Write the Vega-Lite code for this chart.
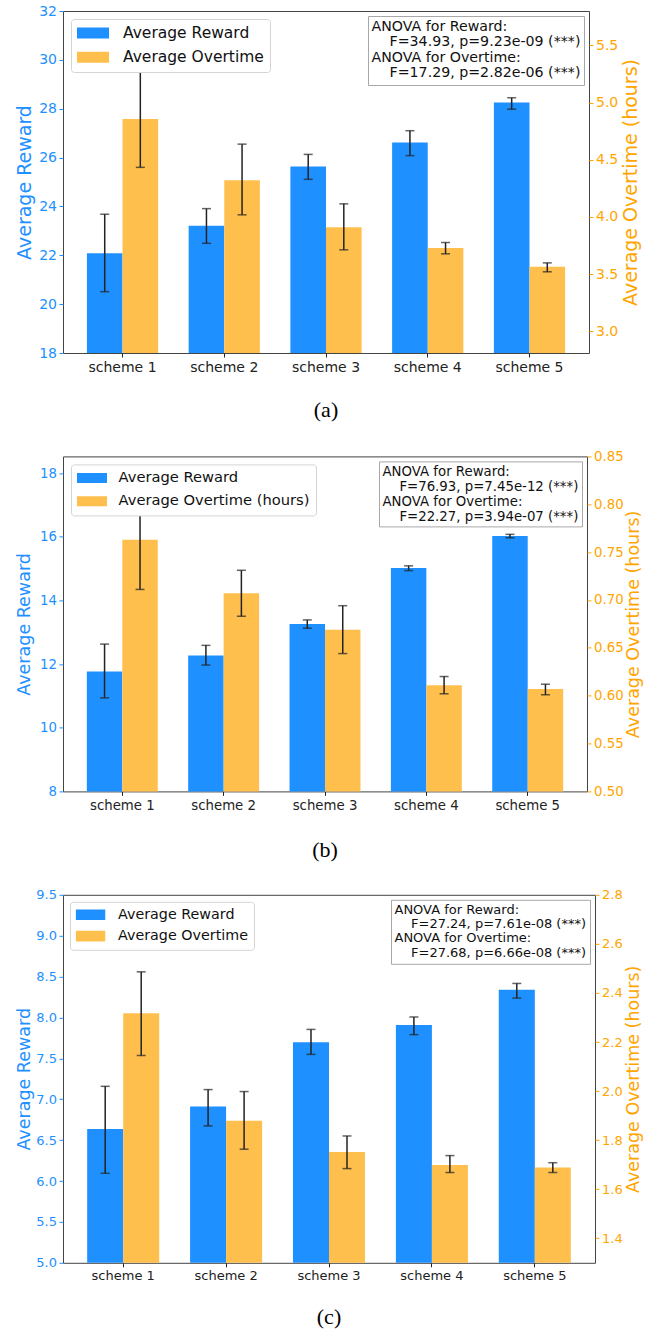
{
  "$schema": "https://vega.github.io/schema/vega-lite/v6.json",
  "padding": {"left": 14, "top": 3, "right": 4, "bottom": 4},
  "background": "white",
  "bounds": "flush",
  "spacing": 103.4,
  "config": {
    "font": "DejaVu Sans",
    "view": {"stroke": "#444444", "strokeWidth": 1},
    "axis": {"grid": false, "domain": false, "tickSize": 4, "tickWidth": 1, "labelPadding": 2.5, "titleFontWeight": "normal", "labelFont": "DejaVu Sans", "titleFont": "DejaVu Sans"},
    "legend": {"labelFont": "DejaVu Sans"},
    "title": {"font": "Liberation Serif", "fontWeight": "normal", "color": "black", "orient": "bottom", "anchor": "middle", "fontSize": 22}
  },
  "resolve": {
    "scale": {"color": "independent", "shape": "independent", "xOffset": "independent"},
    "legend": {"color": "independent", "shape": "independent"}
  },
  "vconcat": [
    {
      "width": 526,
      "height": 342,
      "title": {"text": "(a)", "offset": 26},
      "data": {"values": [
        {"scheme": "scheme 1", "metric": "reward", "series": "Average Reward", "mean": 22.08, "lo": 20.51, "hi": 23.68},
        {"scheme": "scheme 2", "metric": "reward", "series": "Average Reward", "mean": 23.21, "lo": 22.49, "hi": 23.91},
        {"scheme": "scheme 3", "metric": "reward", "series": "Average Reward", "mean": 25.63, "lo": 25.11, "hi": 26.13},
        {"scheme": "scheme 4", "metric": "reward", "series": "Average Reward", "mean": 26.62, "lo": 26.08, "hi": 27.10},
        {"scheme": "scheme 5", "metric": "reward", "series": "Average Reward", "mean": 28.25, "lo": 27.98, "hi": 28.45},
        {"scheme": "scheme 1", "metric": "overtime", "series": "Average Overtime", "mean": 4.855, "lo": 4.433, "hi": 5.269},
        {"scheme": "scheme 2", "metric": "overtime", "series": "Average Overtime", "mean": 4.32, "lo": 4.018, "hi": 4.636},
        {"scheme": "scheme 3", "metric": "overtime", "series": "Average Overtime", "mean": 3.91, "lo": 3.712, "hi": 4.114},
        {"scheme": "scheme 4", "metric": "overtime", "series": "Average Overtime", "mean": 3.729, "lo": 3.677, "hi": 3.776},
        {"scheme": "scheme 5", "metric": "overtime", "series": "Average Overtime", "mean": 3.563, "lo": 3.52, "hi": 3.598}
      ]},
      "layer": [
        {
          "transform": [{"filter": "datum.metric === 'reward'"}],
          "encoding": {
            "x": {"field": "scheme", "type": "nominal", "title": null, "scale": {"paddingInner": 0.3, "paddingOuter": 0.235}, "axis": {"labelAngle": 0, "labelFontSize": 14, "labelColor": "#222222", "tickColor": "#222222", "labelPadding": 3}},
            "xOffset": {"field": "metric", "type": "nominal", "scale": {"domain": ["reward", "overtime"], "paddingInner": 0, "paddingOuter": 0}}
          },
          "layer": [
            {"mark": {"type": "bar", "clip": true},
             "encoding": {
               "y": {"field": "mean", "type": "quantitative", "title": "Average Reward", "scale": {"domain": [18, 32], "nice": false, "zero": false},
                     "axis": {"orient": "left", "values": [18, 20, 22, 24, 26, 28, 30, 32], "format": "d", "labelColor": "#1E90FF", "tickColor": "#1E90FF", "titleColor": "#1E90FF", "labelFontSize": 14, "titleFontSize": 19, "minExtent": 26, "maxExtent": 26, "titlePadding": 3}},
               "color": {"field": "series", "type": "nominal", "scale": {"domain": ["Average Reward", "Average Overtime"], "range": ["#1E90FF", "#FFBF4D"]},
                         "legend": {"title": null, "orient": "top-left", "offset": 8, "padding": 6, "fillColor": "white", "strokeColor": "#d4d4d4", "cornerRadius": 3, "symbolType": "M-1,-0.34H1V0.34H-1Z", "symbolSize": 1024, "symbolStrokeWidth": 0, "labelOffset": 14, "labelFontSize": 15.5, "labelColor": "#111111", "labelLimit": 400, "clipHeight": 16, "rowPadding": 7.3}}
             }},
            {"mark": {"type": "rule", "color": "#222222", "strokeWidth": 1.5},
             "encoding": {"y": {"field": "lo", "type": "quantitative", "title": "Average Reward"}, "y2": {"field": "hi"}}},
            {"mark": {"type": "tick", "color": "#222222", "thickness": 1.5, "size": 9},
             "encoding": {"y": {"field": "lo", "type": "quantitative", "title": "Average Reward"}}},
            {"mark": {"type": "tick", "color": "#222222", "thickness": 1.5, "size": 9},
             "encoding": {"y": {"field": "hi", "type": "quantitative", "title": "Average Reward"}}}
          ]
        },
        {
          "transform": [{"filter": "datum.metric === 'overtime'"}],
          "encoding": {
            "x": {"field": "scheme", "type": "nominal", "title": null, "scale": {"paddingInner": 0.3, "paddingOuter": 0.235}},
            "xOffset": {"field": "metric", "type": "nominal", "scale": {"domain": ["reward", "overtime"], "paddingInner": 0, "paddingOuter": 0}}
          },
          "layer": [
            {"mark": {"type": "bar", "clip": true},
             "encoding": {
               "y": {"field": "mean", "type": "quantitative", "title": "Average Overtime (hours)", "scale": {"domain": [2.81, 5.80], "nice": false, "zero": false},
                     "axis": {"orient": "right", "values": [3.0, 3.5, 4.0, 4.5, 5.0, 5.5], "format": ".1f", "labelColor": "#FFA500", "tickColor": "#FFA500", "titleColor": "#FFA500", "labelFontSize": 14, "titleFontSize": 19, "titleAngle": 270, "titleBaseline": "top", "titlePadding": 4}},
               "color": {"field": "series", "type": "nominal", "scale": {"domain": ["Average Reward", "Average Overtime"], "range": ["#1E90FF", "#FFBF4D"]}}
             }},
            {"mark": {"type": "rule", "color": "#222222", "strokeWidth": 1.5},
             "encoding": {"y": {"field": "lo", "type": "quantitative", "title": "Average Overtime (hours)"}, "y2": {"field": "hi"}}},
            {"mark": {"type": "tick", "color": "#222222", "thickness": 1.5, "size": 9},
             "encoding": {"y": {"field": "lo", "type": "quantitative", "title": "Average Overtime (hours)"}}},
            {"mark": {"type": "tick", "color": "#222222", "thickness": 1.5, "size": 9},
             "encoding": {"y": {"field": "hi", "type": "quantitative", "title": "Average Overtime (hours)"}}}
          ]
        },
        {
          "data": {"values": [
            {"line": 1, "text": "ANOVA for Reward:"},
            {"line": 2, "text": "\u200b\u00a0\u00a0\u00a0\u00a0F=34.93, p=9.23e-09 (***)"},
            {"line": 3, "text": "ANOVA for Overtime:"},
            {"line": 4, "text": "\u200b\u00a0\u00a0\u00a0\u00a0F=17.29, p=2.82e-06 (***)"}
          ]},
          "mark": {"type": "point", "opacity": 0},
          "encoding": {
            "shape": {"field": "text", "type": "nominal", "sort": {"field": "line", "op": "min"},
                      "legend": {"title": null, "orient": "top-right", "offset": 5, "padding": 3.5, "fillColor": "white", "strokeColor": "#a8a8a8", "cornerRadius": 0, "symbolOpacity": 0, "symbolSize": 1, "symbolStrokeWidth": 0, "labelOffset": -14.2, "labelFontSize": 14.2, "labelColor": "#111111", "labelLimit": 400, "rowPadding": 0.6}}
          }
        }
      ],
      "resolve": {"scale": {"y": "independent"}}
    },
    {
      "width": 524,
      "height": 335,
      "title": {"text": "(b)", "offset": 28},
      "data": {"values": [
        {"scheme": "scheme 1", "metric": "reward", "series": "Average Reward", "mean": 11.77, "lo": 10.94, "hi": 12.63},
        {"scheme": "scheme 2", "metric": "reward", "series": "Average Reward", "mean": 12.27, "lo": 11.97, "hi": 12.59},
        {"scheme": "scheme 3", "metric": "reward", "series": "Average Reward", "mean": 13.26, "lo": 13.13, "hi": 13.39},
        {"scheme": "scheme 4", "metric": "reward", "series": "Average Reward", "mean": 15.02, "lo": 14.94, "hi": 15.09},
        {"scheme": "scheme 5", "metric": "reward", "series": "Average Reward", "mean": 16.03, "lo": 15.97, "hi": 16.08},
        {"scheme": "scheme 1", "metric": "overtime", "series": "Average Overtime (hours)", "mean": 0.763, "lo": 0.711, "hi": 0.813},
        {"scheme": "scheme 2", "metric": "overtime", "series": "Average Overtime (hours)", "mean": 0.707, "lo": 0.683, "hi": 0.731},
        {"scheme": "scheme 3", "metric": "overtime", "series": "Average Overtime (hours)", "mean": 0.669, "lo": 0.644, "hi": 0.694},
        {"scheme": "scheme 4", "metric": "overtime", "series": "Average Overtime (hours)", "mean": 0.611, "lo": 0.602, "hi": 0.620},
        {"scheme": "scheme 5", "metric": "overtime", "series": "Average Overtime (hours)", "mean": 0.607, "lo": 0.601, "hi": 0.612}
      ]},
      "layer": [
        {
          "transform": [{"filter": "datum.metric === 'reward'"}],
          "encoding": {
            "x": {"field": "scheme", "type": "nominal", "title": null, "scale": {"paddingInner": 0.3, "paddingOuter": 0.235}, "axis": {"labelAngle": 0, "labelFontSize": 13.3, "labelColor": "#222222", "tickColor": "#222222", "labelPadding": 3}},
            "xOffset": {"field": "metric", "type": "nominal", "scale": {"domain": ["reward", "overtime"], "paddingInner": 0, "paddingOuter": 0}}
          },
          "layer": [
            {"mark": {"type": "bar", "clip": true},
             "encoding": {
               "y": {"field": "mean", "type": "quantitative", "title": "Average Reward", "scale": {"domain": [8, 18.53], "nice": false, "zero": false},
                     "axis": {"orient": "left", "values": [8, 10, 12, 14, 16, 18], "format": "d", "labelColor": "#1E90FF", "tickColor": "#1E90FF", "titleColor": "#1E90FF", "labelFontSize": 13.3, "titleFontSize": 17.5, "minExtent": 25, "maxExtent": 25, "titlePadding": 5}},
               "color": {"field": "series", "type": "nominal", "scale": {"domain": ["Average Reward", "Average Overtime (hours)"], "range": ["#1E90FF", "#FFBF4D"]},
                         "legend": {"title": null, "orient": "top-left", "offset": 8, "padding": 6, "fillColor": "white", "strokeColor": "#d4d4d4", "cornerRadius": 3, "symbolType": "M-1,-0.333H1V0.333H-1Z", "symbolSize": 900, "symbolStrokeWidth": 0, "labelOffset": 11.5, "labelFontSize": 14.7, "labelColor": "#111111", "labelLimit": 400, "clipHeight": 15, "rowPadding": 7.3}}
             }},
            {"mark": {"type": "rule", "color": "#222222", "strokeWidth": 1.5},
             "encoding": {"y": {"field": "lo", "type": "quantitative", "title": "Average Reward"}, "y2": {"field": "hi"}}},
            {"mark": {"type": "tick", "color": "#222222", "thickness": 1.5, "size": 9},
             "encoding": {"y": {"field": "lo", "type": "quantitative", "title": "Average Reward"}}},
            {"mark": {"type": "tick", "color": "#222222", "thickness": 1.5, "size": 9},
             "encoding": {"y": {"field": "hi", "type": "quantitative", "title": "Average Reward"}}}
          ]
        },
        {
          "transform": [{"filter": "datum.metric === 'overtime'"}],
          "encoding": {
            "x": {"field": "scheme", "type": "nominal", "title": null, "scale": {"paddingInner": 0.3, "paddingOuter": 0.235}},
            "xOffset": {"field": "metric", "type": "nominal", "scale": {"domain": ["reward", "overtime"], "paddingInner": 0, "paddingOuter": 0}}
          },
          "layer": [
            {"mark": {"type": "bar", "clip": true},
             "encoding": {
               "y": {"field": "mean", "type": "quantitative", "title": "Average Overtime (hours)", "scale": {"domain": [0.5, 0.85], "nice": false, "zero": false},
                     "axis": {"orient": "right", "values": [0.5, 0.55, 0.6, 0.65, 0.7, 0.75, 0.8, 0.85], "format": ".2f", "labelColor": "#FFA500", "tickColor": "#FFA500", "titleColor": "#FFA500", "labelFontSize": 13.3, "titleFontSize": 17.5, "titleAngle": 270, "titleBaseline": "top", "titlePadding": 1}},
               "color": {"field": "series", "type": "nominal", "scale": {"domain": ["Average Reward", "Average Overtime (hours)"], "range": ["#1E90FF", "#FFBF4D"]}}
             }},
            {"mark": {"type": "rule", "color": "#222222", "strokeWidth": 1.5},
             "encoding": {"y": {"field": "lo", "type": "quantitative", "title": "Average Overtime (hours)"}, "y2": {"field": "hi"}}},
            {"mark": {"type": "tick", "color": "#222222", "thickness": 1.5, "size": 9},
             "encoding": {"y": {"field": "lo", "type": "quantitative", "title": "Average Overtime (hours)"}}},
            {"mark": {"type": "tick", "color": "#222222", "thickness": 1.5, "size": 9},
             "encoding": {"y": {"field": "hi", "type": "quantitative", "title": "Average Overtime (hours)"}}}
          ]
        },
        {
          "data": {"values": [
            {"line": 1, "text": "ANOVA for Reward:"},
            {"line": 2, "text": "\u200b\u00a0\u00a0\u00a0\u00a0F=76.93, p=7.45e-12 (***)"},
            {"line": 3, "text": "ANOVA for Overtime:"},
            {"line": 4, "text": "\u200b\u00a0\u00a0\u00a0\u00a0F=22.27, p=3.94e-07 (***)"}
          ]},
          "mark": {"type": "point", "opacity": 0},
          "encoding": {
            "shape": {"field": "text", "type": "nominal", "sort": {"field": "line", "op": "min"},
                      "legend": {"title": null, "orient": "top-right", "offset": 5, "padding": 3.5, "fillColor": "white", "strokeColor": "#a8a8a8", "cornerRadius": 0, "symbolOpacity": 0, "symbolSize": 1, "symbolStrokeWidth": 0, "labelOffset": -13.3, "labelFontSize": 13.3, "labelColor": "#111111", "labelLimit": 400, "rowPadding": 1}}
          }
        }
      ],
      "resolve": {"scale": {"y": "independent"}}
    },
    {
      "width": 532,
      "height": 368,
      "title": {"text": "(c)", "offset": 24},
      "data": {"values": [
        {"scheme": "scheme 1", "metric": "reward", "series": "Average Reward", "mean": 6.637, "lo": 6.095, "hi": 7.158},
        {"scheme": "scheme 2", "metric": "reward", "series": "Average Reward", "mean": 6.91, "lo": 6.674, "hi": 7.118},
        {"scheme": "scheme 3", "metric": "reward", "series": "Average Reward", "mean": 7.696, "lo": 7.549, "hi": 7.854},
        {"scheme": "scheme 4", "metric": "reward", "series": "Average Reward", "mean": 7.908, "lo": 7.79, "hi": 8.006},
        {"scheme": "scheme 5", "metric": "reward", "series": "Average Reward", "mean": 8.339, "lo": 8.237, "hi": 8.416},
        {"scheme": "scheme 1", "metric": "overtime", "series": "Average Overtime", "mean": 2.317, "lo": 2.145, "hi": 2.486},
        {"scheme": "scheme 2", "metric": "overtime", "series": "Average Overtime", "mean": 1.879, "lo": 1.763, "hi": 1.998},
        {"scheme": "scheme 3", "metric": "overtime", "series": "Average Overtime", "mean": 1.752, "lo": 1.684, "hi": 1.817},
        {"scheme": "scheme 4", "metric": "overtime", "series": "Average Overtime", "mean": 1.699, "lo": 1.668, "hi": 1.737},
        {"scheme": "scheme 5", "metric": "overtime", "series": "Average Overtime", "mean": 1.688, "lo": 1.668, "hi": 1.708}
      ]},
      "layer": [
        {
          "transform": [{"filter": "datum.metric === 'reward'"}],
          "encoding": {
            "x": {"field": "scheme", "type": "nominal", "title": null, "scale": {"paddingInner": 0.3, "paddingOuter": 0.235}, "axis": {"labelAngle": 0, "labelFontSize": 13, "labelColor": "#222222", "tickColor": "#222222", "labelPadding": 3}},
            "xOffset": {"field": "metric", "type": "nominal", "scale": {"domain": ["reward", "overtime"], "paddingInner": 0, "paddingOuter": 0}}
          },
          "layer": [
            {"mark": {"type": "bar", "clip": true},
             "encoding": {
               "y": {"field": "mean", "type": "quantitative", "title": "Average Reward", "scale": {"domain": [5, 9.5], "nice": false, "zero": false},
                     "axis": {"orient": "left", "values": [5, 5.5, 6, 6.5, 7, 7.5, 8, 8.5, 9, 9.5], "format": ".1f", "labelColor": "#1E90FF", "tickColor": "#1E90FF", "titleColor": "#1E90FF", "labelFontSize": 13, "titleFontSize": 17.5, "minExtent": 28, "maxExtent": 28, "titlePadding": 2}},
               "color": {"field": "series", "type": "nominal", "scale": {"domain": ["Average Reward", "Average Overtime"], "range": ["#1E90FF", "#FFBF4D"]},
                         "legend": {"title": null, "orient": "top-left", "offset": 7, "padding": 5.5, "fillColor": "white", "strokeColor": "#d4d4d4", "cornerRadius": 3, "symbolType": "M-1,-0.36H1V0.36H-1Z", "symbolSize": 870, "symbolStrokeWidth": 0, "labelOffset": 12.5, "labelFontSize": 14.3, "labelColor": "#111111", "labelLimit": 400, "clipHeight": 15, "rowPadding": 6.3}}
             }},
            {"mark": {"type": "rule", "color": "#222222", "strokeWidth": 1.5},
             "encoding": {"y": {"field": "lo", "type": "quantitative", "title": "Average Reward"}, "y2": {"field": "hi"}}},
            {"mark": {"type": "tick", "color": "#222222", "thickness": 1.5, "size": 9},
             "encoding": {"y": {"field": "lo", "type": "quantitative", "title": "Average Reward"}}},
            {"mark": {"type": "tick", "color": "#222222", "thickness": 1.5, "size": 9},
             "encoding": {"y": {"field": "hi", "type": "quantitative", "title": "Average Reward"}}}
          ]
        },
        {
          "transform": [{"filter": "datum.metric === 'overtime'"}],
          "encoding": {
            "x": {"field": "scheme", "type": "nominal", "title": null, "scale": {"paddingInner": 0.3, "paddingOuter": 0.235}},
            "xOffset": {"field": "metric", "type": "nominal", "scale": {"domain": ["reward", "overtime"], "paddingInner": 0, "paddingOuter": 0}}
          },
          "layer": [
            {"mark": {"type": "bar", "clip": true},
             "encoding": {
               "y": {"field": "mean", "type": "quantitative", "title": "Average Overtime (hours)", "scale": {"domain": [1.3, 2.8], "nice": false, "zero": false},
                     "axis": {"orient": "right", "values": [1.4, 1.6, 1.8, 2.0, 2.2, 2.4, 2.6, 2.8], "format": ".1f", "labelColor": "#FFA500", "tickColor": "#FFA500", "titleColor": "#FFA500", "labelFontSize": 13, "titleFontSize": 17.5, "titleAngle": 270, "titleBaseline": "top", "titlePadding": 2}},
               "color": {"field": "series", "type": "nominal", "scale": {"domain": ["Average Reward", "Average Overtime"], "range": ["#1E90FF", "#FFBF4D"]}}
             }},
            {"mark": {"type": "rule", "color": "#222222", "strokeWidth": 1.5},
             "encoding": {"y": {"field": "lo", "type": "quantitative", "title": "Average Overtime (hours)"}, "y2": {"field": "hi"}}},
            {"mark": {"type": "tick", "color": "#222222", "thickness": 1.5, "size": 9},
             "encoding": {"y": {"field": "lo", "type": "quantitative", "title": "Average Overtime (hours)"}}},
            {"mark": {"type": "tick", "color": "#222222", "thickness": 1.5, "size": 9},
             "encoding": {"y": {"field": "hi", "type": "quantitative", "title": "Average Overtime (hours)"}}}
          ]
        },
        {
          "data": {"values": [
            {"line": 1, "text": "ANOVA for Reward:"},
            {"line": 2, "text": "\u200b\u00a0\u00a0\u00a0\u00a0F=27.24, p=7.61e-08 (***)"},
            {"line": 3, "text": "ANOVA for Overtime:"},
            {"line": 4, "text": "\u200b\u00a0\u00a0\u00a0\u00a0F=27.68, p=6.66e-08 (***)"}
          ]},
          "mark": {"type": "point", "opacity": 0},
          "encoding": {
            "shape": {"field": "text", "type": "nominal", "sort": {"field": "line", "op": "min"},
                      "legend": {"title": null, "orient": "top-right", "offset": 5, "padding": 3.5, "fillColor": "white", "strokeColor": "#a8a8a8", "cornerRadius": 0, "symbolOpacity": 0, "symbolSize": 1, "symbolStrokeWidth": 0, "labelOffset": -13, "labelFontSize": 13, "labelColor": "#111111", "labelLimit": 400, "rowPadding": 0.3}}
          }
        }
      ],
      "resolve": {"scale": {"y": "independent"}}
    }
  ]
}
